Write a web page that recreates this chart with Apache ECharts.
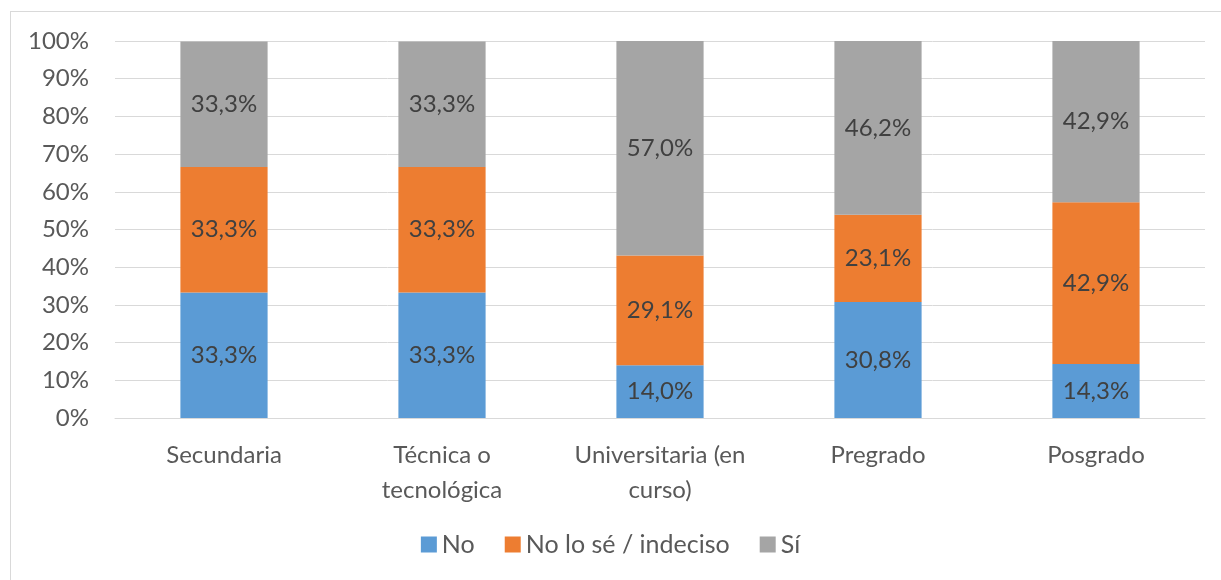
<!DOCTYPE html>
<html>
<head>
<meta charset="utf-8">
<script src="https://cdn.jsdelivr.net/npm/echarts@6/dist/echarts.min.js"></script>
<style>
  html, body { margin: 0; padding: 0; background: #fff; }
  #frame { position: absolute; left: 10px; top: 11px; width: 1220px; height: 580px; border: 1px solid #d9d9d9; box-sizing: border-box; }
  #chart { position: absolute; left: 0; top: 0; width: 1221px; height: 580px; }
</style>
</head>
<body>
<div id="frame"></div>
<div id="chart"></div>
<script>
// categorías y porcentajes
const categories = ["Secundaria", "Técnica o\ntecnológica", "Universitaria (en\ncurso)", "Pregrado", "Posgrado"];
const seriesNames = ["No", "No lo sé / indeciso", "Sí"];
const noValues = [33.3, 33.3, 14.0, 30.8, 14.3];
const unsureValues = [33.3, 33.3, 29.1, 23.1, 42.9];
const yesValues = [33.3, 33.3, 57.0, 46.2, 42.9];
const colors = ["#5b9bd5", "#ed7d31", "#a5a5a5"];

const font = "Lato, 'Open Sans', sans-serif";
const myChart = echarts.init(document.getElementById("chart"));

const makeSeries = (name, data, i) => ({
  name: name,
  type: "bar",
  stack: "total",
  barWidth: "40%",
  data: data,
  itemStyle: { color: colors[i] },
  label: {
    show: true,
    position: "inside",
    color: "#404040",
    fontFamily: font,
    fontSize: 24,
    formatter: (p) => p.value.toFixed(1).replace(".", ",") + "%",
  },
  emphasis: { disabled: true },
});

myChart.setOption({
  animation: false,
  textStyle: { fontFamily: font },
  grid: { left: 115, right: 16, top: 41, bottom: 162 },
  legend: {
    bottom: 18,
    left: "center",
    itemWidth: 16,
    itemHeight: 16,
    itemGap: 30,
    icon: "rect",
    textStyle: { fontSize: 25, color: "#595959", fontFamily: font },
    data: seriesNames,
  },
  xAxis: {
    type: "category",
    data: categories,
    axisLine: { lineStyle: { color: "#d9d9d9" } },
    axisTick: { show: false },
    axisLabel: { interval: 0, hideOverlap: false, color: "#595959", fontSize: 24, fontFamily: font, margin: 20, lineHeight: 35 },
  },
  yAxis: {
    type: "value",
    min: 0,
    max: 100,
    interval: 10,
    axisLine: { show: false },
    axisTick: { show: false },
    splitLine: { lineStyle: { color: "#d9d9d9" } },
    axisLabel: { color: "#595959", fontSize: 24, fontFamily: font, margin: 26, formatter: "{value}%" },
  },
  series: [
    makeSeries(seriesNames[0], noValues, 0),
    makeSeries(seriesNames[1], unsureValues, 1),
    makeSeries(seriesNames[2], yesValues, 2),
  ],
});
</script>
</body>
</html>
